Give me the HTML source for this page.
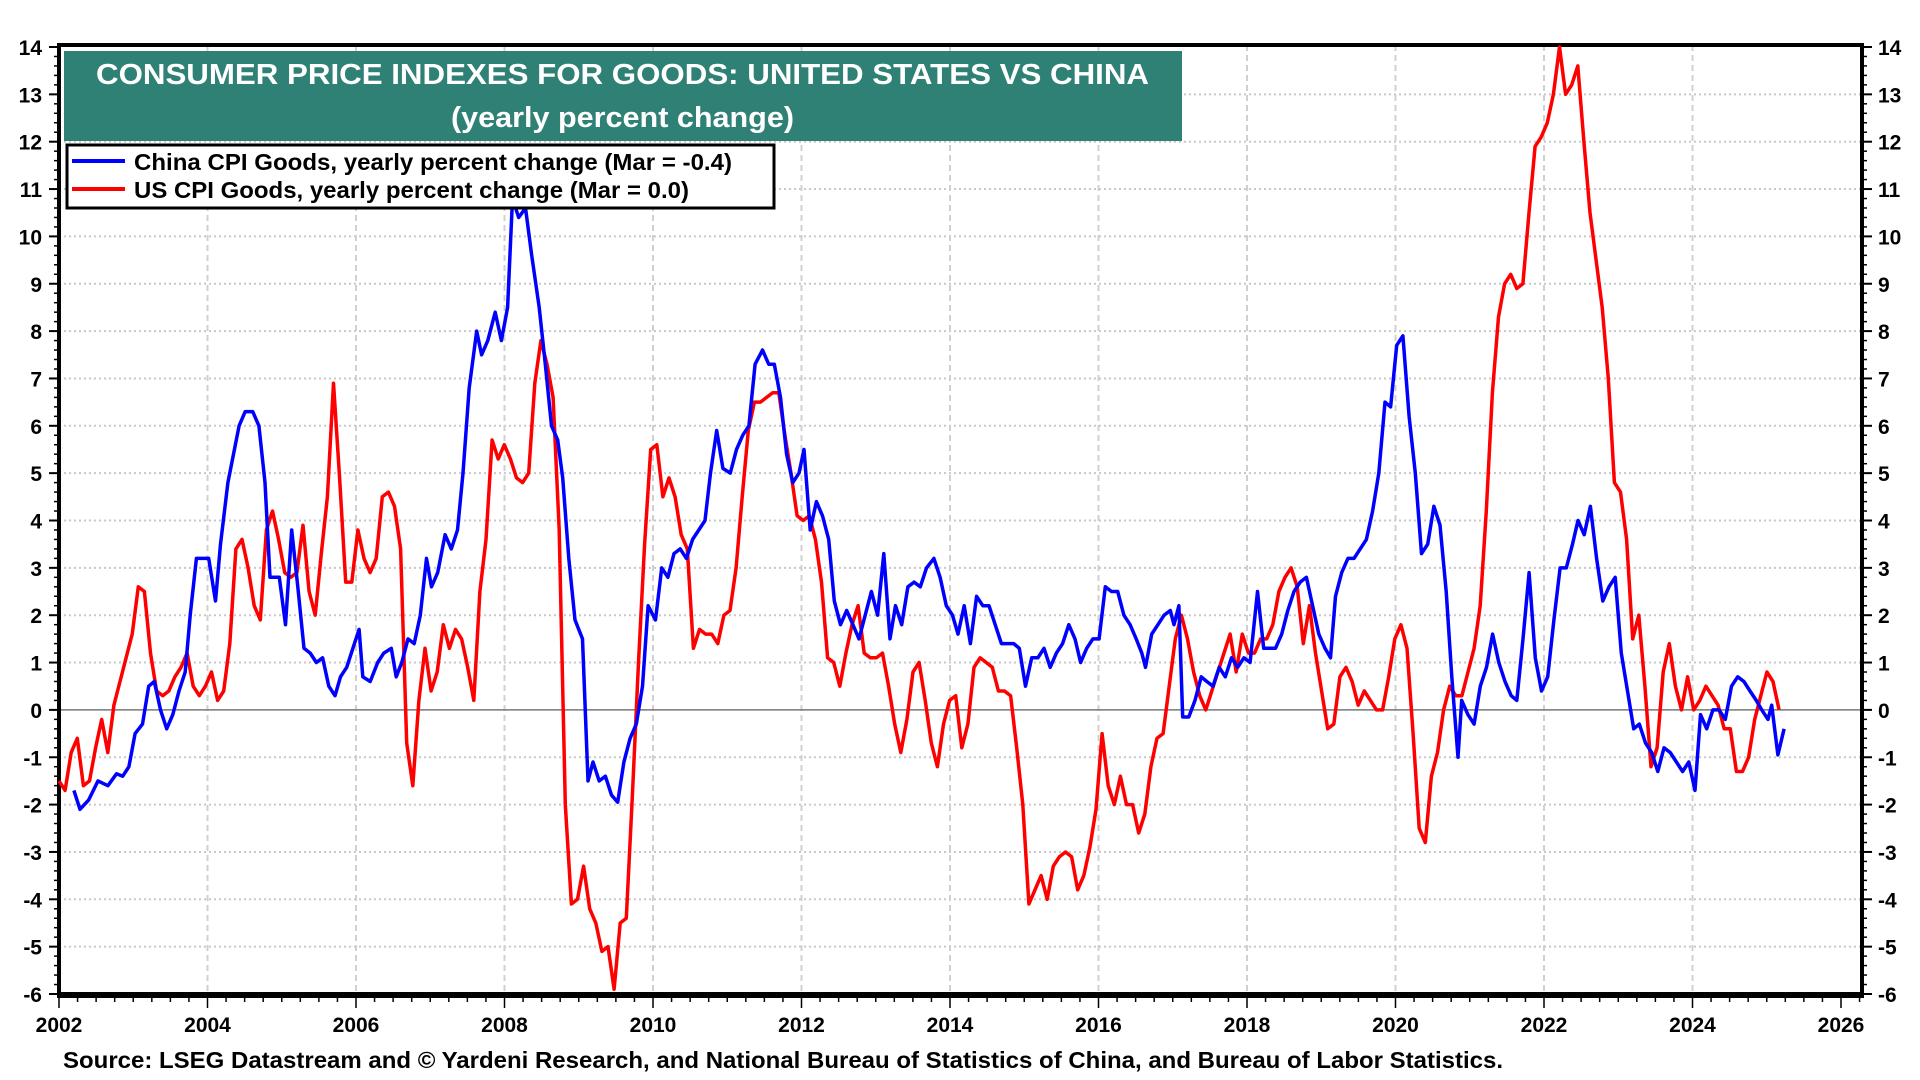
<!DOCTYPE html>
<html><head><meta charset="utf-8">
<style>
html,body{margin:0;padding:0;background:#fff;}
svg{display:block;font-family:"Liberation Sans",Arial,sans-serif;}
</style></head>
<body>
<svg id="chart" width="1920" height="1080" viewBox="0 0 1920 1080" xmlns="http://www.w3.org/2000/svg">
  <rect x="0" y="0" width="1920" height="1080" fill="#fff"/>
  <g id="grid"></g>
  <g id="axes"></g>
  <g id="series"></g>
  <g>
    <rect x="64" y="51" width="1118" height="90" fill="#2f8075"/>
    <text x="96" y="84" textLength="1053" lengthAdjust="spacingAndGlyphs" font-size="29" font-weight="bold" fill="#fff">CONSUMER PRICE INDEXES FOR GOODS: UNITED STATES VS CHINA</text>
    <text x="451" y="127" textLength="343" lengthAdjust="spacingAndGlyphs" font-size="29" font-weight="bold" fill="#fff">(yearly percent change)</text>
  </g>
  <g>
    <rect x="67" y="145" width="707" height="63" fill="#fff" stroke="#000" stroke-width="3"/>
    <line x1="72" y1="161" x2="125" y2="161" stroke="#0000ff" stroke-width="4"/>
    <text x="134" y="170" textLength="598" lengthAdjust="spacingAndGlyphs" font-size="23" font-weight="bold" fill="#000">China CPI Goods, yearly percent change (Mar = -0.4)</text>
    <line x1="72" y1="189" x2="125" y2="189" stroke="#ff0000" stroke-width="4"/>
    <text x="134" y="198" textLength="555" lengthAdjust="spacingAndGlyphs" font-size="23" font-weight="bold" fill="#000">US CPI Goods, yearly percent change (Mar = 0.0)</text>
  </g>
  <text x="63" y="1068" textLength="1440" lengthAdjust="spacingAndGlyphs" font-size="23" font-weight="bold" fill="#000">Source: LSEG Datastream and © Yardeni Research, and National Bureau of Statistics of China, and Bureau of Labor Statistics.</text>
</svg>
<script>
const yTicks = [14,13,12,11,10,9,8,7,6,5,4,3,2,1,0,-1,-2,-3,-4,-5,-6];
const xTicks = [2002,2004,2006,2008,2010,2012,2014,2016,2018,2020,2022,2024,2026];
// China: months since Jan 2002
const chinaMonths = [2.4,3.4,4.8,6.3,7.9,9.3,10.3,11.3,12.3,13.5,14.5,15.4,16.4,17.4,18.4,19.4,20.4,21.2,22.2,24.2,25.3,26.1,27.3,29.1,30.1,31.3,32.3,33.3,34.1,35.6,36.6,37.6,38.6,39.6,40.6,41.6,42.6,43.6,44.6,45.5,46.5,47.5,48.5,49.1,50.3,51.5,52.5,53.7,54.5,55.4,56.4,57.4,58.4,59.4,60.2,61.2,62.4,63.4,64.4,65.3,66.3,67.5,68.3,69.3,70.5,71.5,72.5,73.3,74.3,75.4,76.4,77.6,78.6,79.6,80.6,81.4,82.4,83.4,84.6,85.5,86.3,87.3,88.3,89.3,90.3,91.3,92.3,93.3,94.3,95.2,96.4,97.4,98.4,99.4,100.4,101.4,102.4,103.4,104.4,105.3,106.3,107.3,108.5,109.5,110.5,111.5,112.5,113.7,114.7,115.6,116.6,117.6,118.6,119.6,120.4,121.4,122.4,123.4,124.4,125.3,126.3,127.3,128.3,129.3,130.3,131.3,132.3,133.3,134.3,135.2,136.2,137.2,138.2,139.2,140.2,141.4,142.4,143.4,144.4,145.3,146.3,147.3,148.3,149.3,150.3,151.3,152.3,153.3,154.3,155.2,156.2,157.2,158.2,159.2,160.2,161.2,162.2,163.2,164.2,165.1,166.1,167.1,168.1,169.1,170.1,171.1,172.1,173.1,174.1,175,175.6,176.6,177.6,178.6,179.6,180.2,181,181.6,182.6,183.6,184.6,185.5,186.5,187.5,188.5,189.5,190.5,191.5,192.5,193.7,194.7,195.6,196.6,197.6,198.6,199.6,200.6,201.6,202.6,203.6,204.6,205.5,206.3,207.3,208.3,209.3,210.3,211.3,212.3,213.3,214.3,215.2,216.2,217.2,218.2,219.2,220.2,221.2,222.2,223.2,224.2,225.1,226.1,226.7,227.7,228.7,229.7,230.7,231.7,232.7,233.7,234.7,235.6,236.6,237.6,238.6,239.6,240.6,241.6,242.6,243.6,244.6,245.5,246.5,247.5,248.5,249.5,250.5,251.5,252.5,253.5,254.5,255.4,256.4,257.4,258.4,259.4,260.4,261.4,262.4,263.4,264.4,265.3,266.3,267.3,268.3,269.3,270.3,271.3,272.3,273.3,274.3,275.2,276.2,276.8,277.8,278.8];
const chinaValues = [-1.7,-2.1,-1.9,-1.5,-1.6,-1.35,-1.4,-1.2,-0.5,-0.3,0.5,0.6,0.0,-0.4,-0.1,0.4,0.8,2.0,3.2,3.2,2.3,3.5,4.8,6.0,6.3,6.3,6.0,4.8,2.8,2.8,1.8,3.8,2.6,1.3,1.2,1.0,1.1,0.5,0.3,0.7,0.9,1.3,1.7,0.7,0.6,1.0,1.2,1.3,0.7,1.0,1.5,1.4,2.0,3.2,2.6,2.9,3.7,3.4,3.8,5.0,6.8,8.0,7.5,7.8,8.4,7.8,8.5,10.8,10.4,10.6,9.6,8.5,7.3,6.0,5.7,4.9,3.2,1.9,1.5,-1.5,-1.1,-1.5,-1.4,-1.8,-1.95,-1.1,-0.6,-0.3,0.5,2.2,1.9,3.0,2.8,3.3,3.4,3.2,3.6,3.8,4.0,5.0,5.9,5.1,5.0,5.5,5.8,6.0,7.3,7.6,7.3,7.3,6.6,5.4,4.8,5.0,5.5,3.8,4.4,4.1,3.6,2.3,1.8,2.1,1.8,1.5,2.0,2.5,2.0,3.3,1.5,2.2,1.8,2.6,2.7,2.6,3.0,3.2,2.8,2.2,2.0,1.6,2.2,1.4,2.4,2.2,2.2,1.8,1.4,1.4,1.4,1.3,0.5,1.1,1.1,1.3,0.9,1.2,1.4,1.8,1.5,1.0,1.3,1.5,1.5,2.6,2.5,2.5,2.0,1.8,1.5,1.2,0.9,1.6,1.8,2.0,2.1,1.8,2.2,-0.15,-0.15,0.2,0.7,0.6,0.5,0.9,0.7,1.1,0.9,1.1,1.0,2.5,1.3,1.3,1.3,1.6,2.1,2.5,2.7,2.8,2.2,1.6,1.3,1.1,2.4,2.9,3.2,3.2,3.4,3.6,4.2,5.0,6.5,6.4,7.7,7.9,6.2,5.0,3.3,3.5,4.3,3.9,2.5,0.7,-1.0,0.2,-0.1,-0.3,0.5,0.9,1.6,1.0,0.6,0.3,0.2,1.5,2.9,1.1,0.4,0.7,1.9,3.0,3.0,3.5,4.0,3.7,4.3,3.2,2.3,2.6,2.8,1.2,0.4,-0.4,-0.3,-0.7,-0.9,-1.3,-0.8,-0.9,-1.1,-1.3,-1.1,-1.7,-0.1,-0.4,0.0,0.0,-0.2,0.5,0.7,0.6,0.4,0.2,0.0,-0.2,0.1,-0.95,-0.4];
const usStart = 2002;
const usEnd = 2025 + 2/12;
const usValues = [-1.5,-1.7,-0.9,-0.6,-1.6,-1.5,-0.8,-0.2,-0.9,0.1,0.6,1.1,1.6,2.6,2.5,1.2,0.4,0.3,0.4,0.7,0.9,1.2,0.5,0.3,0.5,0.8,0.2,0.4,1.4,3.4,3.6,3.0,2.2,1.9,3.8,4.2,3.6,2.9,2.8,2.9,3.9,2.5,2.0,3.3,4.5,6.9,4.9,2.7,2.7,3.8,3.2,2.9,3.2,4.5,4.6,4.3,3.4,-0.7,-1.6,0.2,1.3,0.4,0.8,1.8,1.3,1.7,1.5,0.9,0.2,2.5,3.6,5.7,5.3,5.6,5.3,4.9,4.8,5.0,6.9,7.8,7.3,6.6,3.8,-2.0,-4.1,-4.0,-3.3,-4.2,-4.5,-5.1,-5.0,-5.9,-4.5,-4.4,-1.8,1.0,3.5,5.5,5.6,4.5,4.9,4.5,3.7,3.4,1.3,1.7,1.6,1.6,1.4,2.0,2.1,3.0,4.5,5.9,6.5,6.5,6.6,6.7,6.7,5.8,5.0,4.1,4.0,4.1,3.6,2.7,1.1,1.0,0.5,1.2,1.8,2.2,1.2,1.1,1.1,1.2,0.5,-0.3,-0.9,-0.2,0.8,1.0,0.2,-0.7,-1.2,-0.3,0.2,0.3,-0.8,-0.3,0.9,1.1,1.0,0.9,0.4,0.4,0.3,-0.8,-2.0,-4.1,-3.8,-3.5,-4.0,-3.3,-3.1,-3.0,-3.1,-3.8,-3.5,-2.9,-2.1,-0.5,-1.6,-2.0,-1.4,-2.0,-2.0,-2.6,-2.2,-1.2,-0.6,-0.5,0.5,1.5,2.0,1.5,0.8,0.3,0.0,0.4,0.8,1.2,1.6,0.8,1.6,1.2,1.2,1.5,1.5,1.8,2.5,2.8,3.0,2.6,1.4,2.2,1.2,0.4,-0.4,-0.3,0.7,0.9,0.6,0.1,0.4,0.2,0.0,0.0,0.7,1.5,1.8,1.3,-0.5,-2.5,-2.8,-1.4,-0.9,0.0,0.5,0.3,0.3,0.8,1.3,2.2,4.2,6.7,8.3,9.0,9.2,8.9,9.0,10.5,11.9,12.1,12.4,13.0,14.0,13.0,13.2,13.6,12.0,10.5,9.5,8.5,7.0,4.8,4.6,3.6,1.5,2.0,0.5,-1.2,-0.8,0.8,1.4,0.5,0.0,0.7,0.0,0.2,0.5,0.3,0.1,-0.4,-0.4,-1.3,-1.3,-1.0,-0.2,0.3,0.8,0.6,0.0];

const NS='http://www.w3.org/2000/svg';
const L=59,R=1862,T=45,B=994;
function xScale(yr){return 59+(yr-2002)*(1841-59)/24;}
function yScale(v){return 47+(14-v)*(994-47)/20;}
function mk(tag,attrs,parent){const e=document.createElementNS(NS,tag);for(const k in attrs)e.setAttribute(k,attrs[k]);parent.appendChild(e);return e;}
const grid=document.getElementById('grid'),axes=document.getElementById('axes'),series=document.getElementById('series');

yTicks.forEach(v=>{
  const y=yScale(v);
  if(v!==0&&v!==14&&v!==-6){
    const g=mk('line',{x1:L,x2:R,y1:y,y2:y,stroke:'#c8c8c8','stroke-width':2,'stroke-dasharray':'2,3'},grid);
    
    
  }
  const tl=mk('text',{x:L-17,y:y+8,'text-anchor':'end','font-size':21,'font-weight':'bold'},axes);
  tl.textContent=v;
  
  
  const tr=mk('text',{x:R+16,y:y+8,'text-anchor':'start','font-size':21,'font-weight':'bold'},axes);
  tr.textContent=v;
  
  
  mk('line',{x1:L-10,x2:L,y1:y,y2:y,stroke:'#000','stroke-width':2},axes);
  mk('line',{x1:R,x2:R+10,y1:y,y2:y,stroke:'#000','stroke-width':2},axes);
  if(v>-6){for(let k=1;k<5;k++){const yy=y+k*(yScale(0)-yScale(1))/5;
    mk('line',{x1:L-5,x2:L,y1:yy,y2:yy,stroke:'#000','stroke-width':1.5},axes);
    mk('line',{x1:R,x2:R+5,y1:yy,y2:yy,stroke:'#000','stroke-width':1.5},axes);}}
});
xTicks.forEach(yr=>{
  const x=xScale(yr);
  if(yr>2002&&yr<2026){
    const g=mk('line',{x1:x,x2:x,y1:T,y2:B,stroke:'#d0d0d0','stroke-width':2,'stroke-dasharray':'6,4'},grid);
    
    
  }
  const t=mk('text',{x:x,y:1032,'text-anchor':'middle','font-size':21,'font-weight':'bold'},axes);
  t.textContent=yr;
  
  
});
for(let q=0;q<=97;q++){const x=xScale(2002+q/4);if(x>R)break;
  mk('line',{x1:x,x2:x,y1:B,y2:B+(q%8===0?14:8),stroke:'#000','stroke-width':1.5},axes);}
const zl=mk('line',{x1:L,x2:R,y1:yScale(0),y2:yScale(0),stroke:'#777','stroke-width':1.5},grid);


const fr=mk('rect',{x:L,y:T,width:R-L,height:B-T,fill:'none',stroke:'#000','stroke-width':4},axes);


mk('line',{x1:L-2,x2:R+2,y1:B+1,y2:B+1,stroke:'#000','stroke-width':6},axes);

function drawLine(pts,color,name){
  const p=mk('polyline',{points:pts.join(' '),fill:'none',stroke:color,'stroke-width':3.5,'stroke-linejoin':'round'},series);
  
  
}
const usPts=usValues.map((v,i)=>{const yr=usStart+(usEnd-usStart)*i/(usValues.length-1);return xScale(yr).toFixed(1)+','+yScale(v).toFixed(1);});
drawLine(usPts,'#ff0000','us-cpi-goods-line');
const cnPts=chinaValues.map((v,i)=>xScale(2002+chinaMonths[i]/12).toFixed(1)+','+yScale(v).toFixed(1));
drawLine(cnPts,'#0000ff','china-cpi-goods-line');
</script>
</body></html>
